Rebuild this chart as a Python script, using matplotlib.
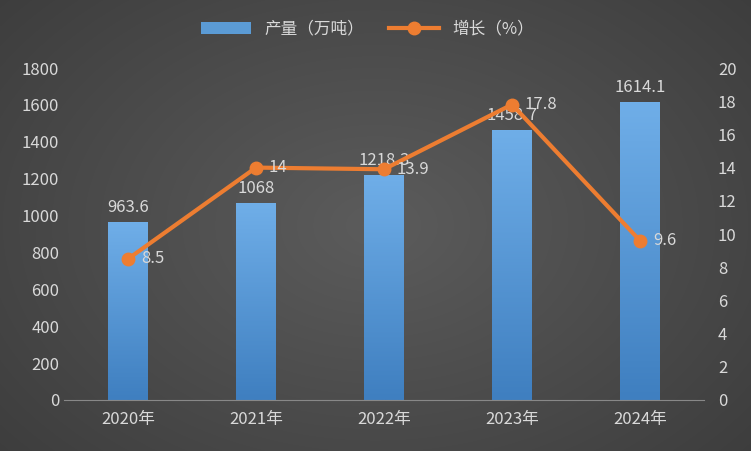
import matplotlib.pyplot as plt
import numpy as np
from matplotlib.colors import LinearSegmentedColormap

plt.rcParams['font.family'] = ['Noto Sans CJK SC', 'DejaVu Sans']

years = ["2020年", "2021年", "2022年", "2023年", "2024年"]
output = [963.6, 1068, 1218.3, 1458.7, 1614.1]
growth = [8.5, 14, 13.9, 17.8, 9.6]
output_labels = ["963.6", "1068", "1218.3", "1458.7", "1614.1"]
growth_labels = ["8.5", "14", "13.9", "17.8", "9.6"]

txt = "#d9d9d9"
fig = plt.figure(figsize=(7.51, 4.51), dpi=100)

# dark radial background in its own axes behind everything
bgax = fig.add_axes([0, 0, 1, 1], zorder=-10)
yy, xx = np.mgrid[0:451, 0:751]
r = np.sqrt(((xx - 375) / 500) ** 2 + ((yy - 225) / 350) ** 2)
bg = np.clip(0.36 - 0.12 * r, 0.2, 0.4)
bgax.imshow(np.dstack([bg, bg, bg]), aspect="auto")
bgax.axis("off")

ax = fig.add_axes([64 / 751, 51 / 451, 640 / 751, 332 / 451])
ax.patch.set_alpha(0)
x = np.arange(len(years))

bars = ax.bar(x, output, width=0.31, color="#5b9bd5", zorder=2, label="产量（万吨）")
cmap = LinearSegmentedColormap.from_list("g", ["#6faee8", "#3f7fc0"])
grad = np.linspace(0, 1, 100).reshape(-1, 1)
for b in bars:
    bx, by, w, h = b.get_x(), b.get_y(), b.get_width(), b.get_height()
    ax.imshow(grad, extent=[bx, bx + w, by, by + h], aspect="auto", cmap=cmap, zorder=2.1)
ax.set_xlim(-0.5, 4.5)
ax.set_ylim(0, 1800)
ax.set_yticks(range(0, 1801, 200))
ax.set_xticks(x, years)
for i, v in enumerate(output):
    ax.text(i, v + 35, output_labels[i], ha="center", va="bottom", color=txt, fontsize=12, zorder=5)

ax2 = ax.twinx()
ax2.plot(x, growth, color="#ed7d31", lw=3, marker="o", ms=9, zorder=3, label="增长（%）")
ax2.set_ylim(0, 20)
ax2.set_yticks(range(0, 21, 2))
for i, v in enumerate(growth):
    ax2.text(i + 0.1, v, growth_labels[i], ha="left", va="center", color=txt, fontsize=12)

for a in (ax, ax2):
    for s in a.spines.values():
        s.set_visible(False)
    a.tick_params(colors=txt, labelsize=12, length=0)
ax.spines["bottom"].set_visible(True)
ax.spines["bottom"].set_color("#888888")
ax.tick_params(axis="x", pad=8)
ax2.tick_params(axis="y", pad=10)

h1, l1 = ax.get_legend_handles_labels()
h2, l2 = ax2.get_legend_handles_labels()
fig.legend(h1 + h2, l1 + l2, loc="center", bbox_to_anchor=(0.49, 0.935), ncol=2,
           frameon=False, labelcolor=txt, fontsize=12, handlelength=3, columnspacing=1.5)

fig.savefig("out.png", dpi=100)
